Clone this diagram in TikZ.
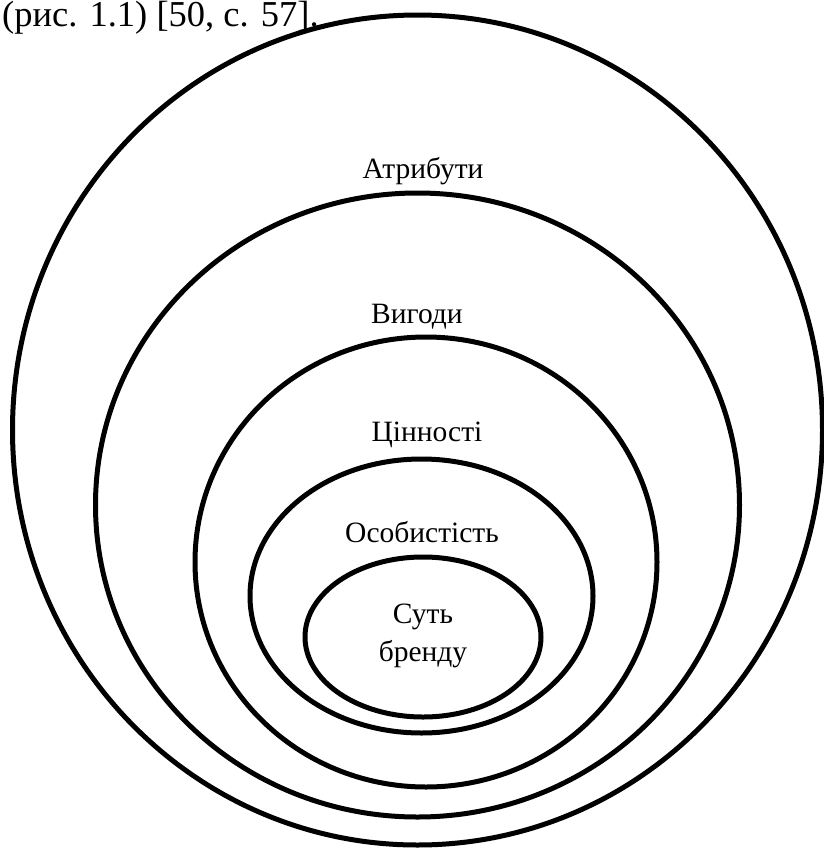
\documentclass[tikz,border=0pt]{standalone}
\usepackage{fontspec}
\setmainfont{Liberation Serif}
\tikzset{
  ring/.style={line width=5pt},
  lbl/.style={font=\fontsize{29.5}{38}\selectfont, inner sep=0pt, align=center}
}
\begin{document}
\begin{tikzpicture}[x=1pt,y=1pt]
                \useasboundingbox (0,0) rectangle (824,-849);
                \node[anchor=base west, inner sep=0pt, font=\fontsize{36.5}{44}\selectfont] (cap) at (2,-26) {(рис. 1.1) [50, с. 57].};
                \draw [ring] (417.5,-430) ellipse [x radius=405, y radius=415];
                \draw [ring] (417.5,-505) ellipse [x radius=322, y radius=312];
                \draw [ring] (426,-562) ellipse [x radius=231, y radius=225];
                \draw [ring] (421.5,-596) ellipse [x radius=171.5, y radius=137];
                \draw [ring] (423,-637) ellipse [x radius=118, y radius=80];
                \node[lbl] (attr) at (423,-171) {Атрибути};
                \node[lbl] (vyh) at (417,-317) {Вигоди};
                \node[lbl] (tsin) at (427,-435) {Цінності};
                \node[lbl] (osob) at (422,-532) {Особистість};
                \node[lbl] (sut) at (423,-636) {Суть\\бренду};
            \end{tikzpicture}
\end{document}
